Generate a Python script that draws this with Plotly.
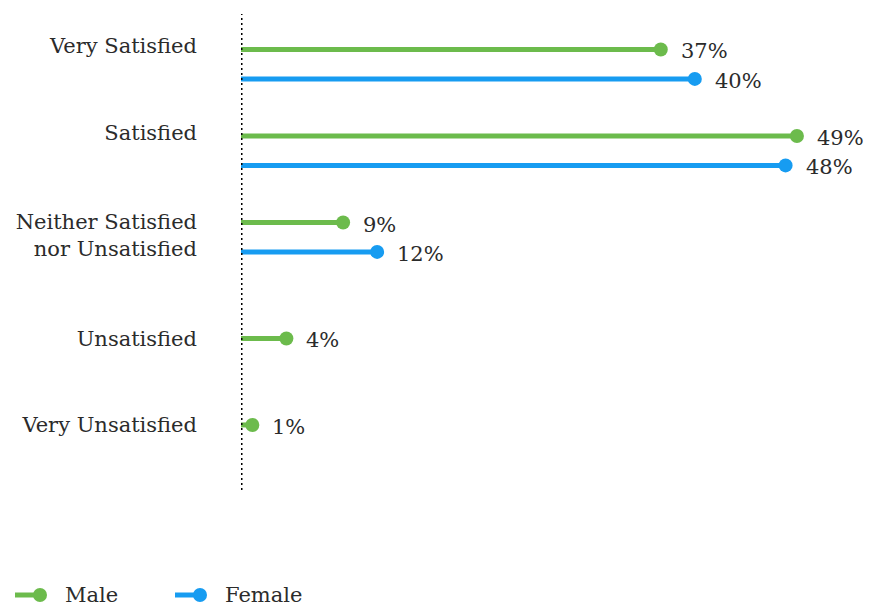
import plotly.graph_objects as go

categories = ["Very Satisfied", "Satisfied", "Neither Satisfied<br>nor Unsatisfied", "Unsatisfied", "Very Unsatisfied"]
male = [37, 49, 9, 4, 1]
female = [40, 48, 12, None, None]
series_names = ["Male", "Female"]
colors = ["#6cbb4c", "#179cf1"]

FONT = "DejaVu Serif"
TXT = "#2b2b2b"
W, H = 869, 607
ML, MR, MT, MB = 241, 4, 14, 117
PW, PH = W - ML - MR, H - MT - MB
SUB = 0.34  # sub-row offset inside a category

pos = {"Male": [], "Female": []}
label_y = []
for i, cat in enumerate(categories):
    if female[i] is not None:
        pos["Male"].append(i)
        pos["Female"].append(i + SUB)
        first = i - 0.04
    else:
        pos["Male"].append(i + SUB)
        pos["Female"].append(None)
        first = i + SUB
    nlines = cat.count("<br>") + 1
    label_y.append(first + (nlines - 1) * SUB / 2 + (0.02 if nlines > 1 else 0))

fig = go.Figure()
annotations = []
for name, vals, col in zip(series_names, [male, female], colors):
    xs, ys, mx, my = [], [], [], []
    for v, y in zip(vals, pos[name]):
        if v is None:
            continue
        xs += [0, v, None]
        ys += [y, y, None]
        mx.append(v)
        my.append(y)
        annotations.append(dict(x=v, y=y, xref="x", yref="y", text=f"{v}%", showarrow=False,
                                xanchor="left", yanchor="middle", xshift=18, yshift=-2,
                                font=dict(size=21, color=TXT, family=FONT)))
    fig.add_trace(go.Scatter(x=xs, y=ys, mode="lines", name=name, showlegend=False,
                             line=dict(color=col, width=5), hoverinfo="skip"))
    fig.add_trace(go.Scatter(x=mx, y=my, mode="markers", name=name, showlegend=False,
                             marker=dict(color=col, size=14, opacity=1, line=dict(width=0)),
                             hoverinfo="skip"))

fig.add_shape(type="line", xref="x", yref="paper", x0=0, x1=0, y0=0, y1=1,
              line=dict(color="#000000", width=3, dash="2px,3px"))

# custom legend (pixel -> paper helpers)
def px(xp):
    return (xp - ML) / PW

def py(yp):
    return (H - MB - yp) / PH

legend_items = [("Male", colors[0], 15), ("Female", colors[1], 175)]
LY = 595
for name, col, x0 in legend_items:
    fig.add_shape(type="line", xref="paper", yref="paper", x0=px(x0), x1=px(x0 + 25),
                  y0=py(LY), y1=py(LY), line=dict(color=col, width=5))
    fig.add_shape(type="circle", xref="paper", yref="paper", x0=px(x0 + 25 - 7), x1=px(x0 + 25 + 7),
                  y0=py(LY - 7), y1=py(LY + 7), fillcolor=col, line=dict(width=0))
    annotations.append(dict(x=px(x0 + 48), y=py(LY), xref="paper", yref="paper", text=name,
                            showarrow=False, xanchor="left", yanchor="middle",
                            font=dict(size=21, color=TXT, family=FONT)))

fig.update_layout(
    width=W, height=H,
    margin=dict(l=ML, r=MR, t=MT, b=MB),
    plot_bgcolor="white", paper_bgcolor="white",
    font=dict(family=FONT, size=21, color=TXT),
    xaxis=dict(range=[0, 55], showgrid=False, zeroline=False, showticklabels=False, fixedrange=True),
    yaxis=dict(range=[5.092, -0.41], showgrid=False, zeroline=False,
               tickmode="array", tickvals=label_y, ticktext=categories,
               ticks="", ticklabelstandoff=43, tickfont=dict(size=21, color=TXT)),
    showlegend=False,
    annotations=annotations,
)

fig.write_html("out.html")
